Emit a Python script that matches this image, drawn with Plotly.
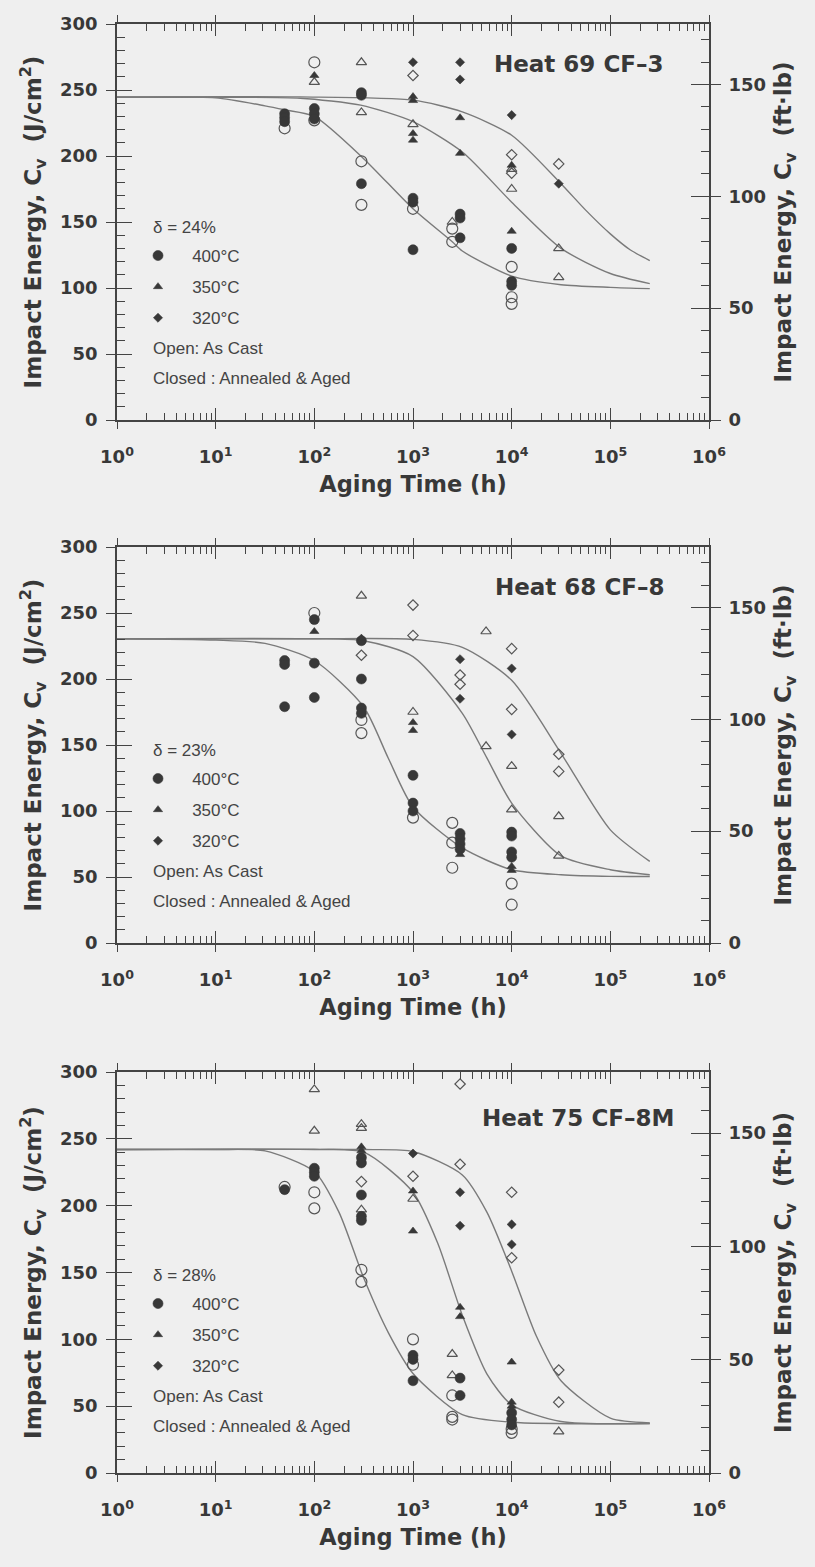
import plotly.graph_objects as go

# ---------------- data ----------------
# Heat 69 CF-3 (delta = 24%)
h69_c400_x = [50, 50, 50, 100, 100, 100, 300, 300, 300, 1000, 1000, 1000, 3000, 3000, 3000, 10000, 10000, 10000]
h69_c400_y = [232, 229, 226, 236, 232, 228, 248, 246, 179, 168, 165, 129, 156, 153, 138, 130, 105, 102]
h69_o400_x = [50, 100, 100, 300, 300, 1000, 2500, 2500, 10000, 10000, 10000]
h69_o400_y = [221, 271, 227, 196, 163, 160, 145, 135, 116, 93, 88]
h69_c350_x = [100, 1000, 1000, 1000, 1000, 3000, 3000, 10000, 10000]
h69_c350_y = [261, 245, 242, 217, 212, 229, 202, 193, 143]
h69_o350_x = [100, 300, 300, 1000, 2500, 10000, 10000, 30000, 30000]
h69_o350_y = [256, 271, 233, 224, 150, 190, 175, 130, 108]
h69_c320_x = [1000, 3000, 3000, 10000, 30000]
h69_c320_y = [271, 271, 258, 231, 179]
h69_o320_x = [1000, 10000, 10000, 30000]
h69_o320_y = [261, 201, 187, 194]
h69_fit400_t = [1, 10, 31.6, 50, 100, 316, 1000, 2500, 3162, 10000, 31623, 100000, 251000]
h69_fit400_y = [244.5, 244, 238, 235, 230, 198, 160, 135, 128, 109, 102.5, 100.5, 99.5]
h69_fit350_t = [1, 10, 72, 295, 1000, 3162, 10000, 31623, 100000, 251000]
h69_fit350_y = [244.5, 244.5, 243.8, 238.5, 226, 203, 165, 130, 111, 103.3]
h69_fit320_t = [1, 72, 1000, 3162, 10000, 31623, 56234, 100000, 158489, 251000]
h69_fit320_y = [244.8, 244.8, 242.3, 233.4, 215.7, 179, 159, 141, 129, 120.8]

# Heat 68 CF-8 (delta = 23%)
h68_c400_x = [50, 50, 50, 100, 100, 100, 300, 300, 300, 300, 1000, 1000, 1000, 3000, 3000, 3000, 3000, 10000, 10000, 10000, 10000]
h68_c400_y = [214, 211, 179, 245, 212, 186, 229, 200, 178, 174, 127, 106, 100, 83, 79, 75, 71, 84, 81, 69, 65]
h68_o400_x = [100, 300, 300, 1000, 2500, 2500, 2500, 10000, 10000]
h68_o400_y = [250, 169, 159, 95, 91, 76, 57, 45, 29]
h68_c350_x = [100, 300, 1000, 1000, 3000, 10000, 10000]
h68_c350_y = [236, 231, 167, 161, 67, 58, 55]
h68_o350_x = [300, 1000, 5500, 5500, 10000, 10000, 30000, 30000]
h68_o350_y = [263, 175, 236, 149, 134, 101, 96, 66]
h68_c320_x = [3000, 3000, 10000, 10000]
h68_c320_y = [215, 185, 208, 158]
h68_o320_x = [300, 1000, 1000, 3000, 3000, 10000, 10000, 30000, 30000]
h68_o320_y = [218, 256, 233, 203, 196, 223, 177, 143, 130]
h68_fit400_t = [1, 10, 31.6, 100, 316, 562, 1000, 3162, 10000, 31623, 100000, 251000]
h68_fit400_y = [230.5, 229.5, 227, 214, 179, 140, 103, 72, 55.5, 51.7, 50.5, 50.4]
h68_fit350_t = [1, 100, 316, 1000, 3162, 5623, 10000, 31623, 100000, 251000]
h68_fit350_y = [230.5, 230.5, 229, 217, 174, 140, 106, 66, 55.5, 51.7]
h68_fit320_t = [1, 100, 1000, 3162, 10000, 31623, 100000, 251000]
h68_fit320_y = [230.5, 230.5, 230, 224, 199, 143.7, 85.7, 61.8]

# Heat 75 CF-8M (delta = 28%)
h75_c400_x = [50, 100, 100, 100, 300, 300, 300, 300, 300, 1000, 1000, 1000, 3000, 3000, 10000, 10000, 10000]
h75_c400_y = [212, 228, 225, 222, 236, 232, 208, 192, 189, 88, 85, 69, 71, 58, 45, 40, 36]
h75_o400_x = [50, 100, 100, 300, 300, 1000, 1000, 2500, 2500, 2500, 10000, 10000]
h75_o400_y = [214, 210, 198, 152, 143, 100, 81, 58, 42, 40, 33, 30]
h75_c350_x = [300, 300, 1000, 1000, 3000, 3000, 10000, 10000, 10000]
h75_c350_y = [244, 241, 211, 181, 124, 117, 83, 53, 50]
h75_o350_x = [100, 100, 300, 300, 300, 1000, 2500, 2500, 30000]
h75_o350_y = [287, 256, 261, 258, 197, 205, 89, 73, 31]
h75_c320_x = [1000, 3000, 3000, 10000, 10000]
h75_c320_y = [239, 210, 185, 186, 171]
h75_o320_x = [300, 1000, 3000, 3000, 10000, 10000, 30000, 30000]
h75_o320_y = [218, 222, 291, 231, 210, 161, 77, 53]
h75_fit400_t = [1, 10, 31.6, 100, 178, 316, 562, 1000, 3162, 10000, 251000]
h75_fit400_y = [242, 242, 241, 225.6, 195, 146, 105, 74.4, 43.6, 38, 37]
h75_fit350_t = [1, 100, 316, 1000, 1778, 3162, 5623, 10000, 31623, 251000]
h75_fit350_y = [242, 242, 240, 210, 172, 118, 74, 51, 38.5, 37]
h75_fit320_t = [1, 316, 1000, 3162, 5623, 10000, 17783, 31623, 100000, 251000]
h75_fit320_y = [242, 242, 240.5, 223, 195, 151, 102.5, 69, 41, 37.5]

heat_titles = ["Heat 69 CF\u20133", "Heat 68 CF\u20138", "Heat 75 CF\u20138M"]
delta_labels = ["\u03b4 = 24%", "\u03b4 = 23%", "\u03b4 = 28%"]
temp_labels = ["400\u00b0C", "350\u00b0C", "320\u00b0C"]
x_tick_vals = [1, 10, 100, 1000, 10000, 100000, 1000000]
x_tick_text = ["10<sup>%d</sup>" % i for i in range(7)]
J_PER_FTLB = 1.695  # J/cm^2 per ft-lb for a 0.8 cm^2 Charpy ligament

# ---------------- layout geometry ----------------
W, H = 815, 1567
ML, MR, MT, MB = 117, 106, 24, 94
PW, PH = W - ML - MR, H - MT - MB
panel_px = [(24, 420), (547, 943), (1072, 1473)]
title_right_px = [665, 666, 676]


def py(p):
    return 1 - (p - MT) / PH


def pxx(p):
    return (p - ML) / PW


INK = "#383838"
LINE = "#444444"
CURVE = "#7a7a7a"
BG = "#efefef"
TICKFONT = dict(family="DejaVu Sans", size=18, color=INK, weight="bold")
XTITLEFONT = dict(family="DejaVu Sans", size=22.5, color=INK, weight="bold")
YTITLEFONT = dict(family="DejaVu Sans", size=23, color=INK, weight="bold")
LEGFONT = dict(family="Liberation Sans", size=17, color="#444444")

panels = [
    dict(c400=(h69_c400_x, h69_c400_y), o400=(h69_o400_x, h69_o400_y),
         c350=(h69_c350_x, h69_c350_y), o350=(h69_o350_x, h69_o350_y),
         c320=(h69_c320_x, h69_c320_y), o320=(h69_o320_x, h69_o320_y),
         fits=[(h69_fit400_t, h69_fit400_y), (h69_fit350_t, h69_fit350_y), (h69_fit320_t, h69_fit320_y)]),
    dict(c400=(h68_c400_x, h68_c400_y), o400=(h68_o400_x, h68_o400_y),
         c350=(h68_c350_x, h68_c350_y), o350=(h68_o350_x, h68_o350_y),
         c320=(h68_c320_x, h68_c320_y), o320=(h68_o320_x, h68_o320_y),
         fits=[(h68_fit400_t, h68_fit400_y), (h68_fit350_t, h68_fit350_y), (h68_fit320_t, h68_fit320_y)]),
    dict(c400=(h75_c400_x, h75_c400_y), o400=(h75_o400_x, h75_o400_y),
         c350=(h75_c350_x, h75_c350_y), o350=(h75_o350_x, h75_o350_y),
         c320=(h75_c320_x, h75_c320_y), o320=(h75_o320_x, h75_o320_y),
         fits=[(h75_fit400_t, h75_fit400_y), (h75_fit350_t, h75_fit350_y), (h75_fit320_t, h75_fit320_y)]),
]

sym = {"400": ("circle", 10), "350": ("triangle-up", 8), "320": ("diamond", 7)}
minor_x = [m * 10 ** d for d in range(6) for m in range(2, 10)]

fig = go.Figure()
layout = dict(width=W, height=H, paper_bgcolor=BG, plot_bgcolor=BG,
              margin=dict(l=ML, r=MR, t=MT, b=MB), showlegend=True,
              annotations=[])

for k, pdata in enumerate(panels):
    n = k + 1
    xa = "x" if n == 1 else "x%d" % n
    ya = "y" if n == 1 else "y%d" % n
    xkey = "xaxis" if n == 1 else "xaxis%d" % n
    ykey = "yaxis" if n == 1 else "yaxis%d" % n
    yr, ysl, ysr, xs = n + 3, n + 6, n + 9, n + 3
    top, bot = panel_px[k]
    dom = [py(bot), py(top)]
    leg = "legend" if n == 1 else "legend%d" % n

    # fitted curves
    for t, v in pdata["fits"]:
        fig.add_trace(go.Scatter(x=t, y=v, mode="lines", xaxis=xa, yaxis=ya,
                                 line=dict(color=CURVE, width=1.4, shape="spline", smoothing=0.7),
                                 showlegend=False, hoverinfo="skip"))
    # data points: open = as cast
    for temp in ["400", "350", "320"]:
        s, sz = sym[temp]
        ox, oy = pdata["o" + temp]
        fig.add_trace(go.Scatter(x=ox, y=oy, mode="markers", xaxis=xa, yaxis=ya,
                                 marker=dict(symbol=s + "-open", size=sz + 1, color="#555555",
                                             line=dict(width=1.2, color="#555555")),
                                 showlegend=False))
    # closed = annealed & aged (these carry the legend)
    for temp, lab in zip(["400", "350", "320"], temp_labels):
        s, sz = sym[temp]
        cx, cy = pdata["c" + temp]
        fig.add_trace(go.Scatter(x=cx, y=cy, mode="markers", xaxis=xa, yaxis=ya,
                                 name="\u00a0\u00a0\u00a0" + lab, legend=leg,
                                 legendgroup="p%d_%s" % (n, temp),
                                 marker=dict(symbol=s, size=sz, color=INK,
                                             line=dict(width=0.6, color=INK))))
    # empty traces so the secondary / tick-stub axes get drawn
    for xx, yy in [(xa, "y%d" % yr), (xa, "y%d" % ysl), (xa, "y%d" % ysr), ("x%d" % xs, ya)]:
        fig.add_trace(go.Scatter(x=[], y=[], xaxis=xx, yaxis=yy, mode="markers",
                                 showlegend=False, hoverinfo="skip"))

    # main axes
    layout[xkey] = dict(type="log", range=[0, 6], domain=[0, 1], anchor=ya,
                        showline=True, linecolor=LINE, linewidth=1.6, mirror="ticks",
                        ticks="inside", ticklen=12, tickwidth=1.4, tickcolor=LINE,
                        tickvals=x_tick_vals, ticktext=x_tick_text, tickfont=TICKFONT,
                        ticklabelstandoff=20,
                        minor=dict(tickvals=minor_x, ticks="inside", ticklen=7,
                                   tickwidth=1.1, tickcolor=LINE, showgrid=False),
                        showgrid=False, zeroline=False,
                        title=dict(text="Aging Time (h)", font=XTITLEFONT, standoff=10))
    layout[ykey] = dict(range=[0, 300], domain=dom, anchor=xa, dtick=50,
                        showline=True, linecolor=LINE, linewidth=1.6,
                        ticks="inside", ticklen=15, tickwidth=1.4, tickcolor=LINE,
                        tickfont=TICKFONT, ticklabelstandoff=14,
                        minor=dict(dtick=10, ticks="inside", ticklen=8, tickwidth=1.1,
                                   tickcolor=LINE, showgrid=False),
                        showgrid=False, zeroline=False,
                        title=dict(text="Impact Energy, C<sub>v</sub>\u00a0\u00a0(J/cm<sup>2</sup>)",
                                   font=YTITLEFONT, standoff=12))
    # right axis, ft-lb
    layout["yaxis%d" % yr] = dict(range=[0, 300 / J_PER_FTLB], overlaying=ya, anchor=xa,
                                  side="right", dtick=50, showline=True, linecolor=LINE,
                                  linewidth=1.6, ticks="inside", ticklen=18, tickwidth=1.4,
                                  tickcolor=LINE, tickfont=TICKFONT, ticklabelstandoff=14,
                                  minor=dict(dtick=10, ticks="inside", ticklen=8,
                                             tickwidth=1.1, tickcolor=LINE, showgrid=False),
                                  showgrid=False, zeroline=False,
                                  title=dict(text="Impact Energy, C<sub>v</sub>\u00a0\u00a0(ft\u00b7lb)",
                                             font=YTITLEFONT, standoff=10))
    # outside tick stubs (major ticks cross the axis lines)
    layout["yaxis%d" % ysl] = dict(range=[0, 300], overlaying=ya, anchor=xa, side="left",
                                   dtick=50, ticks="outside", ticklen=10, tickwidth=1.4,
                                   tickcolor=LINE, showticklabels=False, showline=False,
                                   showgrid=False, zeroline=False)
    layout["yaxis%d" % ysr] = dict(range=[0, 300 / J_PER_FTLB], overlaying=ya, anchor=xa,
                                   side="right", dtick=50, ticks="outside", ticklen=11,
                                   tickwidth=1.4, tickcolor=LINE, showticklabels=False,
                                   showline=False, showgrid=False, zeroline=False)
    layout["xaxis%d" % xs] = dict(type="log", range=[0, 6], overlaying=xa, anchor=ya,
                                  side="bottom", tickvals=x_tick_vals, ticks="outside",
                                  ticklen=8, tickwidth=1.4, tickcolor=LINE, mirror="ticks",
                                  showticklabels=False, showline=False, showgrid=False,
                                  zeroline=False)

    # legend (temperature symbols)
    layout[leg] = dict(x=pxx(138), y=py(top + 214), xanchor="left", yanchor="top",
                       bgcolor="rgba(0,0,0,0)", font=LEGFONT, traceorder="grouped",
                       tracegroupgap=6, itemsizing="trace")
    xd, yd = xa + " domain", ya + " domain"
    span = bot - top
    layout["annotations"] += [
        dict(text=heat_titles[k], xref=xd, yref=yd, x=(title_right_px[k] - ML) / PW,
             y=1 - (40 if n < 3 else 46) / span, xanchor="right", yanchor="middle",
             showarrow=False, font=dict(family="DejaVu Sans", size=23, color=INK, weight="bold")),
        dict(text=delta_labels[k], xref=xd, yref=yd, x=(151 - ML) / PW,
             y=1 - 203 / span, xanchor="left", yanchor="middle", showarrow=False, font=LEGFONT),
        dict(text="Open: As Cast", xref=xd, yref=yd, x=(151 - ML) / PW,
             y=1 - 324 / span, xanchor="left", yanchor="middle", showarrow=False, font=LEGFONT),
        dict(text="Closed : Annealed & Aged", xref=xd, yref=yd, x=(151 - ML) / PW,
             y=1 - 354 / span, xanchor="left", yanchor="middle", showarrow=False, font=LEGFONT),
    ]

fig.update_layout(**layout)
fig.write_html("out.html", config={"displayModeBar": False},
               post_script="document.body.style.margin='0';document.body.style.overflow='hidden';")
